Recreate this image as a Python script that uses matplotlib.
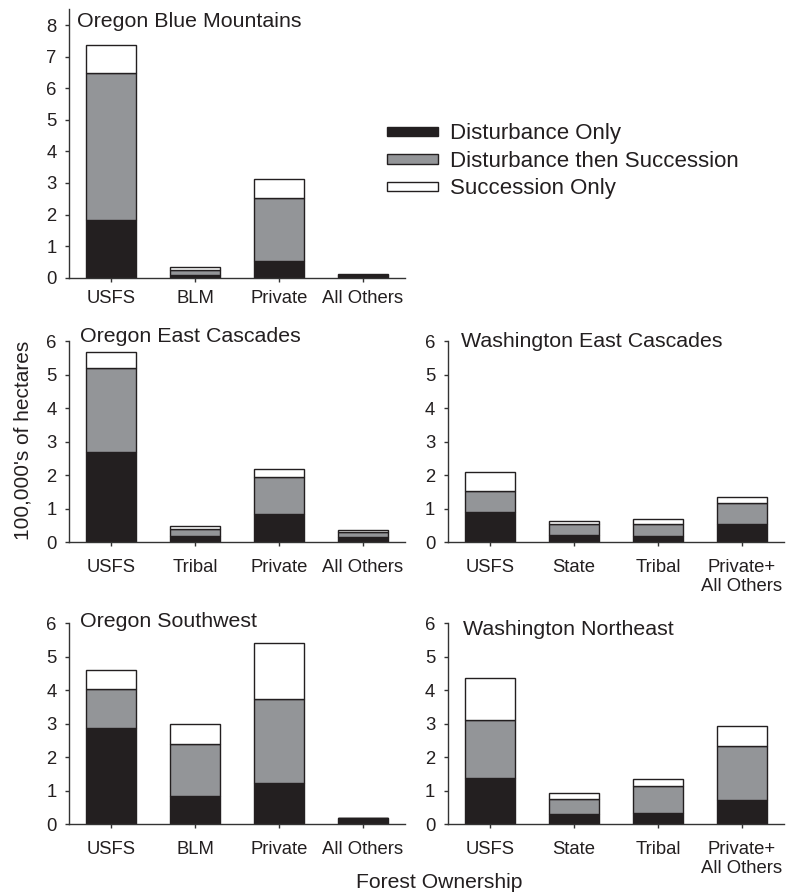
import numpy as np
import matplotlib
matplotlib.use("Agg")
import matplotlib.pyplot as plt
from matplotlib.patches import Patch

plt.rcParams['font.family'] = ['Liberation Sans', 'DejaVu Sans']

# values in 100,000's of hectares
region_names = ["Oregon Blue Mountains", "Oregon East Cascades", "Washington East Cascades",
                "Oregon Southwest", "Washington Northeast"]
owner_labels = [
    ["USFS", "BLM", "Private", "All Others"],
    ["USFS", "Tribal", "Private", "All Others"],
    ["USFS", "State", "Tribal", "Private+\nAll Others"],
    ["USFS", "BLM", "Private", "All Others"],
    ["USFS", "State", "Tribal", "Private+\nAll Others"],
]
# cumulative tops of each segment
dist_only = [
    [1.83, 0.07, 0.53, 0.05],
    [2.69, 0.19, 0.84, 0.17],
    [0.91, 0.22, 0.20, 0.56],
    [2.87, 0.84, 1.22, 0.19],
    [1.37, 0.31, 0.35, 0.73],
]
dist_then_succ_top = [
    [6.49, 0.25, 2.52, 0.10],
    [5.20, 0.39, 1.94, 0.32],
    [1.52, 0.55, 0.55, 1.17],
    [4.03, 2.40, 3.74, 0.19],
    [3.10, 0.75, 1.14, 2.34],
]
succ_only_top = [
    [7.38, 0.33, 3.12, 0.12],
    [5.66, 0.48, 2.18, 0.36],
    [2.11, 0.63, 0.69, 1.35],
    [4.61, 3.00, 5.41, 0.19],
    [4.36, 0.93, 1.34, 2.94],
]
y_max = [8.5, 6, 6, 6, 6]
y_ticks = [range(0, 9), range(0, 7), range(0, 7), range(0, 7), range(0, 7)]

dark = "#231f20"
grey = "#939598"

W, H = 789, 892
fig = plt.figure(figsize=(W / 100, H / 100), dpi=100)

# axes boxes in pixels: left, right, top, bottom
boxes = [
    (69, 405, 9.3, 277.7),
    (69, 405, 341, 542.3),
    (447.7, 784, 341, 542.3),
    (69, 405, 623, 824.3),
    (447.7, 784, 623, 824.3),
]
# title offsets in pixels from top-left corner of axes (x right, baseline down)
title_off = [(8, 18), (11, 0.7), (13, 5.7), (11, 4.3), (15, 12)]
xpad = [6, 9, 9, 9, 9]

for i in range(5):
    l, r, t, b = boxes[i]
    ax = fig.add_axes([l / W, 1 - b / H, (r - l) / W, (b - t) / H])
    x = np.arange(4)
    d = np.array(dist_only[i])
    g = np.array(dist_then_succ_top[i])
    s = np.array(succ_only_top[i])
    kw = dict(width=0.6, edgecolor=dark, linewidth=1.0)
    ax.bar(x, d, color=dark, **kw)
    ax.bar(x, g - d, bottom=d, color=grey, **kw)
    ax.bar(x, s - g, bottom=g, color="white", **kw)

    ax.set_xlim(-0.5, 3.5)
    ax.set_ylim(0, y_max[i])
    ax.set_yticks(list(y_ticks[i]))
    ax.set_xticks(x)
    ax.set_xticklabels(owner_labels[i], linespacing=1.12)
    for sp in ["top", "right"]:
        ax.spines[sp].set_visible(False)
    for sp in ["left", "bottom"]:
        ax.spines[sp].set_color("#333333")
        ax.spines[sp].set_linewidth(1.0)
    ax.tick_params(axis="both", direction="out", length=3, width=1.0, color="#333333",
                   labelsize=13.3, labelcolor=dark)
    ax.tick_params(axis="x", pad=xpad[i])
    ax.tick_params(axis="y", pad=6)

    ox, oy = title_off[i]
    ax.annotate(region_names[i], xy=(0, 1), xycoords="axes fraction",
                xytext=(ox, -oy), textcoords="offset pixels",
                ha="left", va="baseline", fontsize=15.4, color=dark)

fig.text(23.5 / W, 1 - 440.3 / H, "100,000's of hectares", rotation=90,
         ha="center", va="center", fontsize=15, color=dark)
fig.text(439.5 / W, 1 - 888 / H, "Forest Ownership", ha="center", va="baseline",
         fontsize=15.2, color=dark)

handles = [Patch(facecolor=dark, edgecolor=dark, linewidth=1.0),
           Patch(facecolor=grey, edgecolor=dark, linewidth=1.0),
           Patch(facecolor="white", edgecolor=dark, linewidth=1.0)]
labels = ["Disturbance Only", "Disturbance then Succession", "Succession Only"]
fig.legend(handles, labels, loc="upper left", bbox_to_anchor=(386.7 / W, 1 - 123.5 / H),
           frameon=False, fontsize=16, handlelength=2.3, handleheight=0.3,
           handletextpad=0.55, labelspacing=0.29, borderpad=0, borderaxespad=0,
           labelcolor=dark)

fig.savefig("out.png", dpi=100)
